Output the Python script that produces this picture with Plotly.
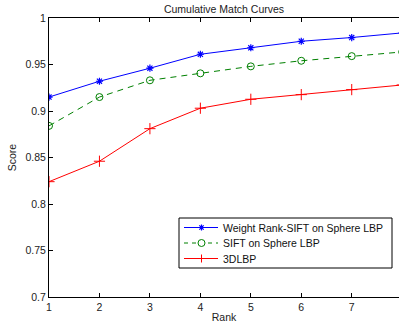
import plotly.graph_objects as go

rank = [1, 2, 3, 4, 5, 6, 7, 8]
weight_rank_sift = [0.915, 0.932, 0.946, 0.961, 0.968, 0.975, 0.979, 0.984]
sift_sphere = [0.884, 0.915, 0.933, 0.9405, 0.948, 0.954, 0.959, 0.9635]
lbp3d = [0.824, 0.846, 0.881, 0.903, 0.9126, 0.9176, 0.923, 0.928]
series_names = ["Weight Rank-SIFT on Sphere LBP", "SIFT on Sphere LBP", "3DLBP"]

x_ticks = [1, 2, 3, 4, 5, 6, 7]
y_ticks = [0.7, 0.75, 0.8, 0.85, 0.9, 0.95, 1.0]
y_labels = ["0.7", "0.75", "0.8", "0.85", "0.9", "0.95", "1"]

BLUE, GREEN, RED = "#0000ff", "#008000", "#ff0000"

fig = go.Figure()
fig.add_trace(go.Scatter(
    x=rank, y=weight_rank_sift, mode="lines+markers", name=series_names[0],
    line=dict(color=BLUE, width=1),
    marker=dict(symbol="asterisk-open", size=6, color=BLUE,
                line=dict(color=BLUE, width=1.2)),
))
fig.add_trace(go.Scatter(
    x=rank, y=sift_sphere, mode="lines+markers", name=series_names[1],
    line=dict(color=GREEN, width=1, dash="6px,5px"),
    marker=dict(symbol="circle-open", size=7, color=GREEN,
                line=dict(color=GREEN, width=1)),
))
fig.add_trace(go.Scatter(
    x=rank, y=lbp3d, mode="lines+markers", name=series_names[2],
    line=dict(color=RED, width=1),
    marker=dict(symbol="cross-thin-open", size=8, color=RED,
                line=dict(color=RED, width=1)),
))

# ---- plot-area geometry (pixels) ----
W, H = 399, 328
L, R, T, B = 49, 0, 18, 31
PW, PH = W - L - R, H - T - B


def px(x):
    return (x - L) / PW


def py(y):
    return (H - B - y) / PH


shapes = []
annotations = []
# custom compact legend box (MATLAB-like)
shapes.append(dict(type="rect", xref="paper", yref="paper",
                   x0=px(179), x1=px(392), y0=py(268), y1=py(218),
                   line=dict(color="black", width=1), fillcolor="white", layer="above"))
rows_y = [227.5, 243, 258.5]
colors = [BLUE, GREEN, RED]
dashes = ["solid", "4px,4px", "solid"]
for i, (ry, c, d, name) in enumerate(zip(rows_y, colors, dashes, series_names)):
    shapes.append(dict(type="line", xref="paper", yref="paper",
                       x0=px(184), x1=px(218), y0=py(ry), y1=py(ry),
                       line=dict(color=c, width=1, dash=d), layer="above"))
    ax, ay = px(201.5), py(ry)
    if i == 0:
        path = "M-3,0 L3,0 M0,-3 L0,3 M-2.2,-2.2 L2.2,2.2 M-2.2,2.2 L2.2,-2.2"
        shapes.append(dict(type="path", xref="paper", yref="paper",
                           xsizemode="pixel", ysizemode="pixel",
                           xanchor=ax, yanchor=ay, path=path,
                           line=dict(color=c, width=1.2), layer="above"))
    elif i == 1:
        shapes.append(dict(type="circle", xref="paper", yref="paper",
                           xsizemode="pixel", ysizemode="pixel",
                           xanchor=ax, yanchor=ay, x0=-3.5, x1=3.5, y0=-3.5, y1=3.5,
                           line=dict(color=c, width=1), fillcolor="white", layer="above"))
    else:
        path = "M-4,0 L4,0 M0,-4 L0,4"
        shapes.append(dict(type="path", xref="paper", yref="paper",
                           xsizemode="pixel", ysizemode="pixel",
                           xanchor=ax, yanchor=ay, path=path,
                           line=dict(color=c, width=1), layer="above"))
    annotations.append(dict(text=name, xref="paper", yref="paper",
                            x=px(221), y=py(ry), xanchor="left", yanchor="middle",
                            showarrow=False, font=dict(size=10.5, color="#111111")))

font_family = "Liberation Sans, Arial, sans-serif"
fig.update_layout(
    width=W, height=H,
    margin=dict(l=L, r=R, t=T, b=B),
    paper_bgcolor="white", plot_bgcolor="white",
    font=dict(family=font_family, size=10.5, color="#222222"),
    title=dict(text="Cumulative Match Curves", x=(224 / 399), xanchor="center",
               y=1 - 9 / 328, yanchor="middle", yref="container",
               font=dict(size=10.5, color="#222222")),
    showlegend=False,
    shapes=shapes,
    annotations=annotations,
    xaxis=dict(range=[1, 7.937], tickvals=x_ticks, ticks="inside", ticklen=4,
               showgrid=False, zeroline=False, showline=True, linecolor="black",
               linewidth=1, mirror="ticks", tickcolor="black",
               title=dict(text="Rank", standoff=2, font=dict(size=10.5))),
    yaxis=dict(range=[0.7, 1.0], tickvals=y_ticks, ticktext=y_labels,
               ticks="inside", ticklen=4,
               showgrid=False, zeroline=False, showline=True, linecolor="black",
               linewidth=1, tickcolor="black",
               title=dict(text="Score", standoff=6, font=dict(size=10.5))),
)

fig.write_html("out.html", config={"displayModeBar": False},
               post_script="document.body.style.margin='0';document.body.style.overflow='hidden';")
